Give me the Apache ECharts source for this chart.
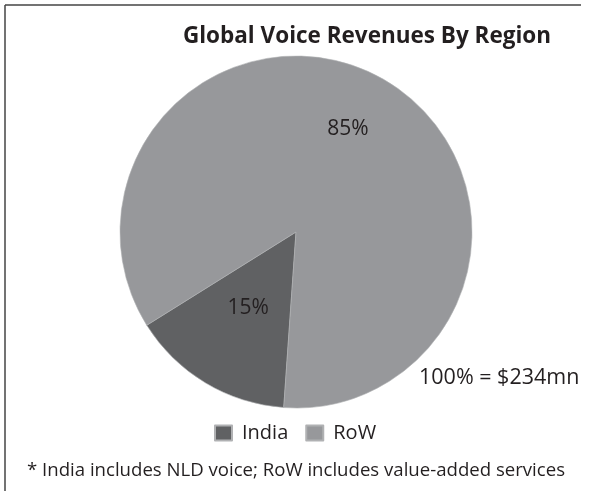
<!DOCTYPE html>
<html>
<head>
<meta charset="utf-8">
<script src="https://cdn.jsdelivr.net/npm/echarts@6/dist/echarts.min.js"></script>
<style>
html, body { margin: 0; padding: 0; background: #fff; }
#chart { width: 591px; height: 491px; }
</style>
</head>
<body>
<div id="chart"></div>
<script>
// data
var regions = ["India", "RoW"];
var shares = [15, 85];
var total = "100% = $234mn";
var note = "* India includes NLD voice; RoW includes value-added services";

var colors = ["#606163", "#97989b"];
var font = "Open Sans";

var myChart = echarts.init(document.getElementById("chart"));

var option = {
	animation: false,
	color: colors,
	title: {
		text: "Global Voice Revenues By Region",
		left: 362,
		top: 20,
		textAlign: "center",
		textStyle: {
			fontFamily: font,
			fontWeight: "bold",
			fontSize: 22.5,
			color: "#231f20"
		}
	},
	legend: {
		data: regions,
		left: 209,
		top: 418,
		icon: "rect",
		itemWidth: 17,
		itemHeight: 15,
		itemGap: 17,
		textStyle: {
			fontFamily: font,
			fontSize: 20,
			color: "#231f20",
			padding: [0, 0, 0, 5]
		}
	},
	series: [{
		type: "pie",
		center: [296, 232],
		radius: 176,
		startAngle: 266,
		clockwise: true,
		silent: true,
		itemStyle: {
			borderColor: "#b0b1b3",
			borderWidth: 0.6
		},
		label: {
			position: "inside",
			formatter: "{c}%",
			fontFamily: font,
			fontSize: 21,
			color: "#231f20"
		},
		labelLine: { show: false },
		labelLayout: function (p) {
			// the big slice label sits further out than the middle
			if (p.dataIndex === 1) return { dx: 5, dy: -25 };
			return { dx: -1, dy: -2 };
		},
		data: regions.map(function (name, i) {
			return { name: name, value: shares[i] };
		})
	}],
	graphic: [{
		type: "line",
		shape: { x1: 5, y1: 5, x2: 581, y2: 5 },
		style: { stroke: "#444", lineWidth: 1.5 }
	}, {
		type: "line",
		shape: { x1: 5, y1: 5, x2: 5, y2: 491 },
		style: { stroke: "#444", lineWidth: 1.5 }
	}, {
		type: "text",
		left: 419,
		top: 367,
		style: {
			text: total,
			font: "21.5px '" + font + "'",
			fill: "#231f20"
		}
	}, {
		type: "text",
		left: 27,
		top: 461,
		style: {
			text: note,
			font: "18.6px '" + font + "'",
			fill: "#231f20"
		}
	}]
};

myChart.setOption(option);
</script>
</body>
</html>
